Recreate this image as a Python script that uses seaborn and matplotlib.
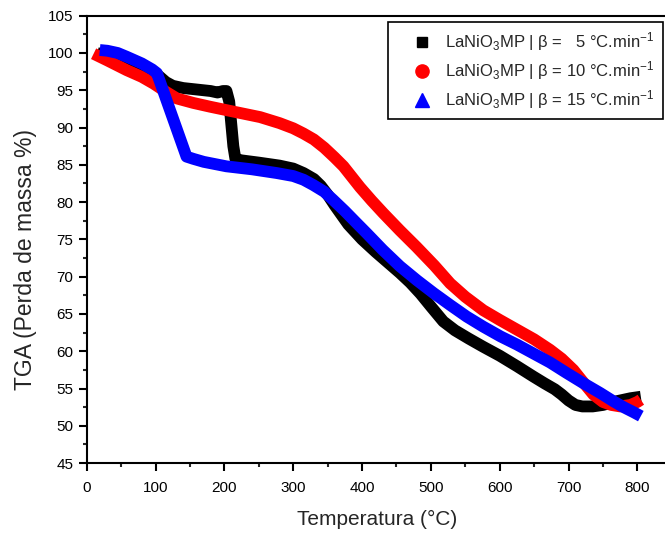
import numpy as np
import pandas as pd
import matplotlib
matplotlib.use("Agg")
import matplotlib.pyplot as plt
from matplotlib.lines import Line2D
from matplotlib.ticker import MultipleLocator
import seaborn as sns

# TGA curves of LaNiO3 MP at three heating rates
temp_5 = [15, 40, 70, 100, 105, 115, 125, 140, 160, 180, 190, 198, 203, 207, 210, 213,
          216, 225, 250, 280, 300, 315, 330, 340, 350, 360, 380, 400, 420, 440, 455,
          470, 485, 500, 518, 535, 555, 576, 600, 625, 649, 665, 680, 690, 700, 710,
          720, 735, 750, 770, 790, 805]
tga_5 = [100.0, 99.3, 98.3, 97.2, 96.9, 96.1, 95.6, 95.3, 95.1, 94.9, 94.7, 94.9, 94.9,
         93.5, 90.5, 87.5, 85.8, 85.6, 85.3, 84.9, 84.5, 83.9, 83.1, 82.2, 81.0, 79.6,
         77.0, 75.0, 73.3, 71.7, 70.5, 69.2, 67.7, 66.0, 64.0, 62.8, 61.7, 60.6, 59.4,
         58.0, 56.6, 55.7, 54.9, 54.2, 53.4, 52.8, 52.6, 52.6, 52.8, 53.3, 53.7, 53.9]

temp_10 = [10, 30, 58, 80, 97, 115, 131, 155, 179, 210, 252, 280, 300, 315, 330, 345,
           360, 373, 385, 397, 414, 431, 455, 479, 505, 528, 550, 576, 600, 625, 650,
           673, 690, 707, 720, 736, 750, 762, 775, 790, 800, 805]
tga_10 = [99.9, 99.0, 97.7, 96.8, 95.9, 94.8, 93.9, 93.3, 92.8, 92.2, 91.4, 90.6, 89.9,
          89.2, 88.4, 87.3, 86.0, 84.8, 83.4, 82.0, 80.2, 78.5, 76.2, 74.0, 71.5, 69.1,
          67.3, 65.5, 64.2, 62.9, 61.6, 60.2, 59.0, 57.5, 56.0, 54.2, 53.2, 52.8, 52.6,
          52.8, 53.2, 53.5]

temp_15 = [19, 30, 45, 58, 80, 95, 102, 115, 130, 145, 155, 170, 203, 240, 276, 300,
           315, 329, 345, 358, 375, 392, 407, 430, 455, 480, 504, 528, 552, 576, 601,
           625, 649, 673, 697, 720, 746, 765, 780, 795, 805]
tga_15 = [100.4, 100.3, 100.0, 99.5, 98.6, 97.8, 97.3, 93.9, 90.0, 86.1, 85.8, 85.4,
          84.8, 84.4, 83.9, 83.5, 83.0, 82.3, 81.4, 80.3, 78.8, 77.2, 75.8, 73.6, 71.4,
          69.5, 67.8, 66.2, 64.65, 63.3, 62.0, 60.9, 59.7, 58.5, 57.1, 55.8, 54.4, 53.3,
          52.5, 51.8, 51.3]

rates = ["5", "10", "15"]
colors = ["#000000", "#ff0000", "#0000ff"]
markers = ["s", "o", "^"]
marker_sizes = [7.5, 9.5, 10]
labels = [r"LaNiO$_3$MP | β =   5 °C.min$^{-1}$",
          r"LaNiO$_3$MP | β = 10 °C.min$^{-1}$",
          r"LaNiO$_3$MP | β = 15 °C.min$^{-1}$"]

df = pd.concat([
    pd.DataFrame({"T": temp_5, "TGA": tga_5, "rate": "5"}),
    pd.DataFrame({"T": temp_10, "TGA": tga_10, "rate": "10"}),
    pd.DataFrame({"T": temp_15, "TGA": tga_15, "rate": "15"}),
])

sns.set_theme(style="ticks")
plt.rcParams["font.family"] = ["Liberation Sans", "DejaVu Sans"]
plt.rcParams["mathtext.fontset"] = "custom"
plt.rcParams["mathtext.rm"] = "Liberation Sans"
plt.rcParams["mathtext.it"] = "Liberation Sans:italic"

fig = plt.figure(figsize=(6.65, 5.36), dpi=100)
ax = fig.add_axes([0.1304, 0.136, 0.8726, 0.8347])

for rate, c in zip(rates, colors):
    sub = df[df["rate"] == rate]
    sns.lineplot(data=sub, x="T", y="TGA", color=c, lw=8.5, ax=ax, sort=False,
                 estimator=None, solid_capstyle="butt", solid_joinstyle="round",
                 legend=False)

ax.set_xlim(0, 843)
ax.set_ylim(45, 105)
ax.xaxis.set_major_locator(MultipleLocator(100))
ax.xaxis.set_minor_locator(MultipleLocator(50))
ax.yaxis.set_major_locator(MultipleLocator(5))
ax.yaxis.set_minor_locator(MultipleLocator(2.5))
ax.tick_params(which="major", direction="out", length=5.5, width=1.5, labelsize=11,
               colors="black")
ax.tick_params(which="minor", direction="out", length=3, width=1.5)
ax.tick_params(axis="x", which="major", pad=7.5)
ax.tick_params(axis="y", which="major", pad=4)
for s in ax.spines.values():
    s.set_linewidth(1.5)
    s.set_color("black")

ax.set_xlabel("Temperatura (°C)", fontsize=15, labelpad=11)
ax.set_ylabel("TGA (Perda de massa %)", fontsize=16.5)
ax.yaxis.set_label_coords(-0.085, 0.454)

handles = [Line2D([], [], ls="none", marker=m, color=c, markersize=ms)
           for m, c, ms in zip(markers, colors, marker_sizes)]
leg = ax.legend(handles, labels, loc="upper right", bbox_to_anchor=(0.997, 0.959),
                bbox_transform=fig.transFigure, fontsize=12.0, frameon=True,
                fancybox=False, edgecolor="black", handletextpad=-0.15, borderpad=0.5,
                labelspacing=0.36, handlelength=3.1, borderaxespad=0)
leg.get_frame().set_linewidth(1.2)
leg.get_frame().set_alpha(1)

fig.savefig("out.png", dpi=100)
